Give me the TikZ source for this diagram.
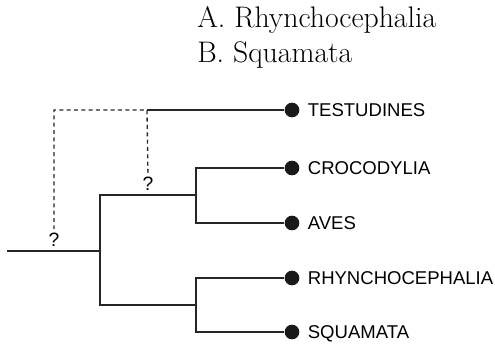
\documentclass[tikz,border=0pt]{standalone}
\usepackage{fontspec}
\setsansfont{Liberation Sans}
\begin{document}
\begin{tikzpicture}[x=0.75pt, y=-0.75pt,
    branch/.style={line width=1pt, draw=black!85},
    link/.style={branch, dash pattern=on 3pt off 2.5pt},
    tip/.style={circle, fill=black!90, inner sep=0pt, minimum size=11pt},
    taxon/.style={anchor=west, inner sep=0pt, xshift=6pt, text height=9.8pt, text depth=0pt, font=\sffamily\fontsize{13.9}{16}\selectfont},
    query/.style={anchor=south, inner sep=0pt, yshift=3.5pt, font=\sffamily\fontsize{14.5}{16}\selectfont},
    heading/.style={anchor=base west, inner sep=0pt, font=\fontsize{22.3}{26}\selectfont}
]
\useasboundingbox (0,0) rectangle (495,344);

% Title
\node[heading] (titleA) at (197,27) {A. Rhynchocephalia};
\node[heading] (titleB) at (197,62) {B. Squamata};

% Junctions
\coordinate (root) at (7,251);
\coordinate (base) at (100,251);
\coordinate (archo) at (196,195);
\coordinate (lepido) at (196,305);
\coordinate (split) at (147,110);
\coordinate (hook) at (54,110);

% Tips
\node[tip] (dTes) at (292,110) {};
\node[tip] (dCro) at (292,168) {};
\node[tip] (dAve) at (292,223) {};
\node[tip] (dRhy) at (292,278) {};
\node[tip] (dSqu) at (292,332) {};

% Branches
\draw[branch] (root) -- (base);
\draw[branch] (archo) -- (archo -| base) -- (lepido -| base) -- (lepido);
\draw[branch] (dCro) -| (archo) |- (dAve);
\draw[branch] (dRhy) -| (lepido) |- (dSqu);
\draw[branch] (split) -- (dTes);

% Uncertain positions
\node[query] (qBase) at (54,251) {?};
\node[query] (qArcho) at (148,195) {?};
\draw[link, shorten <=2.5pt, shorten >=2.5pt] (qArcho.north) -- (split) -- (hook) -- (qBase.north);

% Labels
\node[taxon] (lTes) at (dTes.east) {TESTUDINES};
\node[taxon] (lCro) at (dCro.east) {CROCODYLIA};
\node[taxon] (lAve) at (dAve.east) {AVES};
\node[taxon] (lRhy) at (dRhy.east) {RHYNCHOCEPHALIA};
\node[taxon] (lSqu) at (dSqu.east) {SQUAMATA};

\end{tikzpicture}
\end{document}
